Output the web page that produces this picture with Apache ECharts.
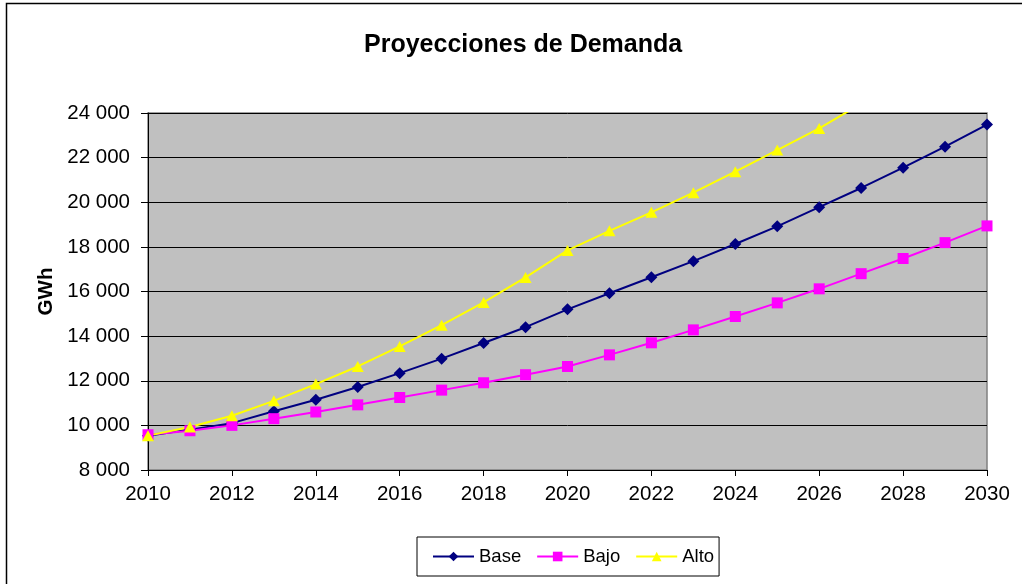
<!DOCTYPE html>
<html>
<head>
<meta charset="utf-8">
<script src="https://cdn.jsdelivr.net/npm/echarts@6/dist/echarts.min.js"></script>
<style>
html,body{margin:0;padding:0;background:#fff;}
#chart{width:1022px;height:584px;}
</style>
</head>
<body>
<div id="chart"></div>
<script>
var years = [2010,2011,2012,2013,2014,2015,2016,2017,2018,2019,2020,2021,2022,2023,2024,2025,2026,2027,2028,2029,2030];
var base = [9540,9810,10100,10630,11150,11720,12340,12990,13690,14400,15200,15920,16640,17360,18130,18920,19780,20640,21550,22490,23480];
var bajo = [9580,9760,10000,10300,10600,10920,11250,11580,11910,12270,12640,13160,13700,14280,14880,15490,16120,16800,17480,18190,18940];
var alto = [9540,9930,10430,11100,11850,12640,13540,14490,15510,16630,17840,18720,19550,20430,21370,22340,23310,24420,null,null,null];
var yTicks = ['8 000','10 000','12 000','14 000','16 000','18 000','20 000','22 000','24 000'];
var seriesNames = ['Base','Bajo','Alto'];

function pairs(v){ return years.map(function(y,i){ return [y, v[i]]; }); }

var font = 'Liberation Sans, Arial, sans-serif';
var chart = echarts.init(document.getElementById('chart'), null, {renderer:'canvas'});
chart.setOption({
  animation:false,
  backgroundColor:'#fff',
  textStyle:{fontFamily:font},
  title:{text:'Proyecciones de Demanda', left:359, top:28,
    textStyle:{fontSize:25, fontWeight:'bold', color:'#000', fontFamily:font}},
  graphic:[{type:'rect', shape:{x:6.5, y:3.5, width:1040, height:620},
    style:{fill:'none', stroke:'#000', lineWidth:1.5}, silent:true, z:-1}],
  grid:{left:148, right:35, top:113, bottom:114, show:true,
    backgroundColor:'#C0C0C0', borderColor:'#808080', borderWidth:1.5},
  legend:{data:seriesNames, left:417, top:537, orient:'horizontal',
    backgroundColor:'#fff', borderColor:'#000', borderWidth:1,
    padding:[10,5,10,15], itemGap:15, itemWidth:41, itemHeight:12,
    textStyle:{fontSize:18.5, color:'#000', fontFamily:font}},
  xAxis:{type:'value', min:2010, max:2030, interval:2,
    axisLine:{show:true, lineStyle:{color:'#000', width:1}},
    axisTick:{show:true, length:6, lineStyle:{color:'#000'}},
    splitLine:{show:false},
    axisLabel:{color:'#000', fontSize:20.5, margin:14, fontFamily:font,
      formatter:function(v){return String(v);}}},
  yAxis:{type:'value', min:8000, max:24000, interval:2000,
    name:'GWh', nameLocation:'middle', nameGap:90,
    nameTextStyle:{fontSize:20.5, fontWeight:'bold', color:'#000', fontFamily:font},
    axisLine:{show:true, lineStyle:{color:'#000', width:1}},
    axisTick:{show:true, length:7, lineStyle:{color:'#000'}},
    splitLine:{show:true, lineStyle:{color:'#000', width:1}},
    axisLabel:{color:'#000', fontSize:20.5, margin:18, fontFamily:font,
      formatter:function(v){ return yTicks[Math.round((v-8000)/2000)]; }}},
  series:[
    {name:'Base', type:'line', data:pairs(base), symbol:'diamond', symbolSize:12,
      lineStyle:{color:'#000080', width:2}, itemStyle:{color:'#000080'}, clip:true},
    {name:'Bajo', type:'line', data:pairs(bajo), symbol:'rect', symbolSize:11,
      lineStyle:{color:'#FF00FF', width:2}, itemStyle:{color:'#FF00FF'}, clip:true},
    {name:'Alto', type:'line', data:pairs(alto), symbol:'triangle', symbolSize:[12,11],
      lineStyle:{color:'#FFFF00', width:2}, itemStyle:{color:'#FFFF00'}, clip:true, connectNulls:false}
  ]
});
</script>
</body>
</html>
